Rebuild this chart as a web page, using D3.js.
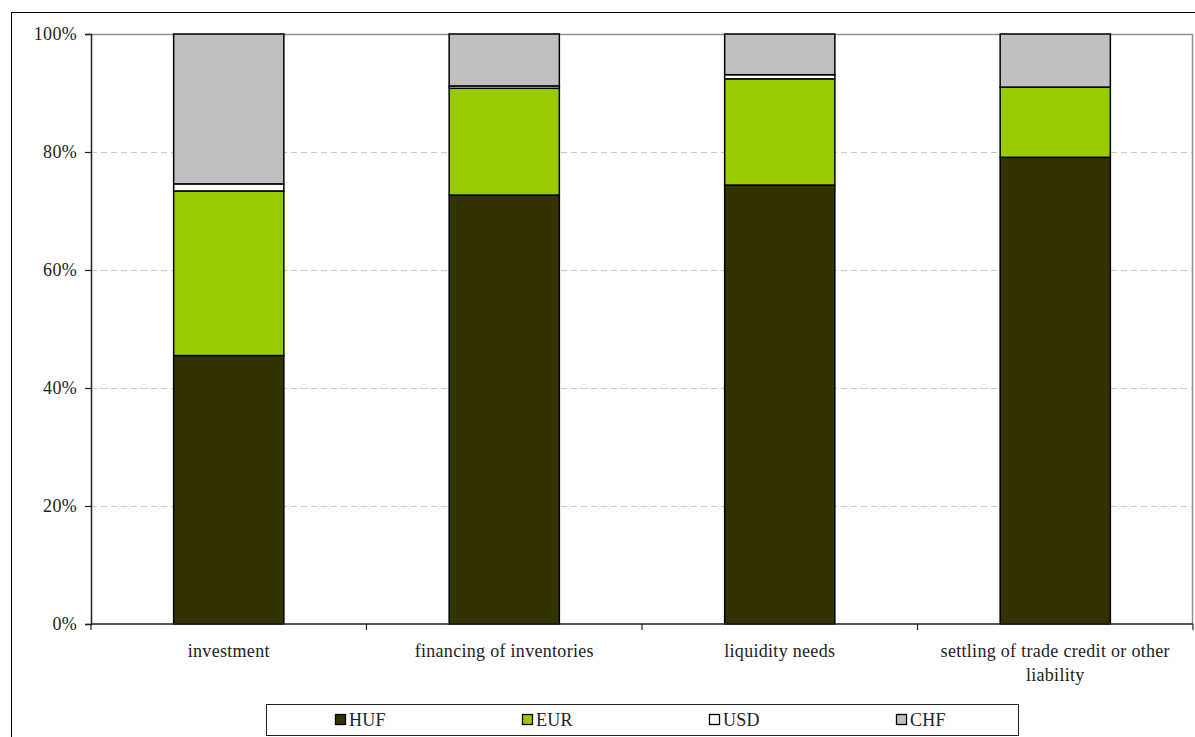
<!DOCTYPE html>
<html>
<head>
<meta charset="utf-8">
<script src="https://cdn.jsdelivr.net/npm/d3@7"></script>
<style>
  html, body { margin: 0; padding: 0; background: #fff; }
  svg { display: block; }
  svg text { font-family: "Liberation Serif", "DejaVu Serif", serif !important; letter-spacing: 0.3px; }
</style>
</head>
<body>
<svg id="chart" width="1195" height="737"></svg>
<script>
// Loan purpose categories and currency shares (percent of total)
const categories = ["investment", "financing of inventories", "liquidity needs", "settling of trade credit or other liability"];
const HUF = [45.5, 72.7, 74.4, 79.1];
const EUR = [27.9, 18.1, 18.0, 11.9];
const USD = [1.2, 0.4, 0.7, 0.0];
const CHF = [25.4, 8.8, 6.9, 9.0];
const seriesNames = ["HUF", "EUR", "USD", "CHF"];
const seriesColors = ["#333300", "#99cc00", "#ffffff", "#c0c0c0"];
const yTicks = [0, 20, 40, 60, 80, 100];

const FONT = "'Liberation Serif', 'DejaVu Serif', serif";
const svg = d3.select("#chart");
const W = 1195, H = 737;
const plot = { left: 91, right: 1193, top: 34, bottom: 624 };

// outer chart frame
svg.append("rect")
  .attr("x", 11.5).attr("y", 12.5)
  .attr("width", W).attr("height", H)
  .attr("fill", "none").attr("stroke", "#000").attr("stroke-width", 1);

const x = d3.scaleBand()
  .domain(categories)
  .range([plot.left, plot.right])
  .paddingInner(0.6)
  .paddingOuter(0.3);

const y = d3.scaleLinear().domain([0, 100]).range([plot.bottom, plot.top]);

// gridlines
svg.append("g")
  .selectAll("line")
  .data(yTicks.filter(t => t > 0 && t < 100))
  .join("line")
  .attr("x1", plot.left).attr("x2", plot.right)
  .attr("y1", d => Math.round(y(d)) + 0.5).attr("y2", d => Math.round(y(d)) + 0.5)
  .attr("stroke", "#c8c8c8").attr("stroke-width", 1)
  .attr("stroke-dasharray", "6,4");

// plot-area border (top and right)
svg.append("path")
  .attr("d", `M${plot.left},${plot.top + 0.5}H${plot.right - 0.5}V${plot.bottom}`)
  .attr("fill", "none").attr("stroke", "#909090").attr("stroke-width", 1.5);

// stacked data
const rows = categories.map((c, i) => ({ cat: c, HUF: HUF[i], EUR: EUR[i], USD: USD[i], CHF: CHF[i] }));
const stacked = d3.stack().keys(seriesNames)(rows);

svg.append("g")
  .selectAll("g")
  .data(stacked)
  .join("g")
  .attr("fill", (d, i) => seriesColors[i])
  .selectAll("rect")
  .data(d => d.filter(p => p[1] - p[0] > 0))
  .join("rect")
  .attr("x", d => x(d.data.cat))
  .attr("width", x.bandwidth())
  .attr("y", d => y(d[1]))
  .attr("height", d => y(d[0]) - y(d[1]))
  .attr("stroke", "#000").attr("stroke-width", 1.5);

// y axis
const yAxis = d3.axisLeft(y)
  .tickValues(yTicks)
  .tickFormat(d => d + "%")
  .tickSize(6)
  .tickPadding(8);
const gy = svg.append("g").attr("transform", `translate(${plot.left},0)`).call(yAxis);
gy.attr("font-family", null).attr("font-size", null);
gy.select(".domain").attr("stroke", "#222").attr("stroke-width", 1.5);
gy.selectAll(".tick line").attr("stroke", "#222").attr("stroke-width", 1.2);
gy.selectAll(".tick text")
  .style("font-family", FONT)
  .style("font-size", "18px").attr("fill", "#222");

// x axis line and category boundary ticks
svg.append("line")
  .attr("x1", plot.left).attr("x2", plot.right)
  .attr("y1", plot.bottom).attr("y2", plot.bottom)
  .attr("stroke", "#222").attr("stroke-width", 1.5);
const boundaries = d3.range(categories.length + 1).map(i => plot.left + i * x.step());
svg.append("g")
  .selectAll("line")
  .data(boundaries)
  .join("line")
  .attr("x1", d => d).attr("x2", d => d)
  .attr("y1", plot.bottom).attr("y2", plot.bottom + 6)
  .attr("stroke", "#222").attr("stroke-width", 1.2);

// category labels with word wrapping
const labelG = svg.append("g")
  .style("font-family", FONT)
  .style("font-size", "18px").attr("fill", "#222").attr("text-anchor", "middle");
categories.forEach(cat => {
  const cx = x(cat) + x.bandwidth() / 2;
  const t = labelG.append("text").attr("x", cx).attr("y", 657);
  const words = cat.split(" ");
  let line = [];
  let tspan = t.append("tspan").attr("x", cx).attr("y", 657);
  let lineNo = 0;
  words.forEach(w => {
    line.push(w);
    tspan.text(line.join(" "));
    if (tspan.node().getComputedTextLength() > 250 && line.length > 1) {
      line.pop();
      tspan.text(line.join(" "));
      line = [w];
      lineNo++;
      tspan = t.append("tspan").attr("x", cx).attr("y", 657 + lineNo * 24).text(w);
    }
  });
});

// legend
const legend = svg.append("g");
legend.append("rect")
  .attr("x", 266.5).attr("y", 704.5)
  .attr("width", 752).attr("height", 31)
  .attr("fill", "#fff").attr("stroke", "#222").attr("stroke-width", 1);
const legendX = d3.scalePoint().domain(seriesNames).range([335, 896]);
const items = legend.selectAll("g.item")
  .data(seriesNames)
  .join("g")
  .attr("class", "item")
  .attr("transform", d => `translate(${legendX(d)},${714})`);
items.append("rect")
  .attr("x", 0.5).attr("y", 0.5)
  .attr("width", 10).attr("height", 10)
  .attr("fill", (d, i) => seriesColors[i])
  .attr("stroke", "#000").attr("stroke-width", 1.3);
items.append("text")
  .attr("x", 14).attr("y", 11.5)
  .style("font-family", FONT)
  .style("font-size", "18px").attr("fill", "#222")
  .text(d => d);
</script>
</body>
</html>
